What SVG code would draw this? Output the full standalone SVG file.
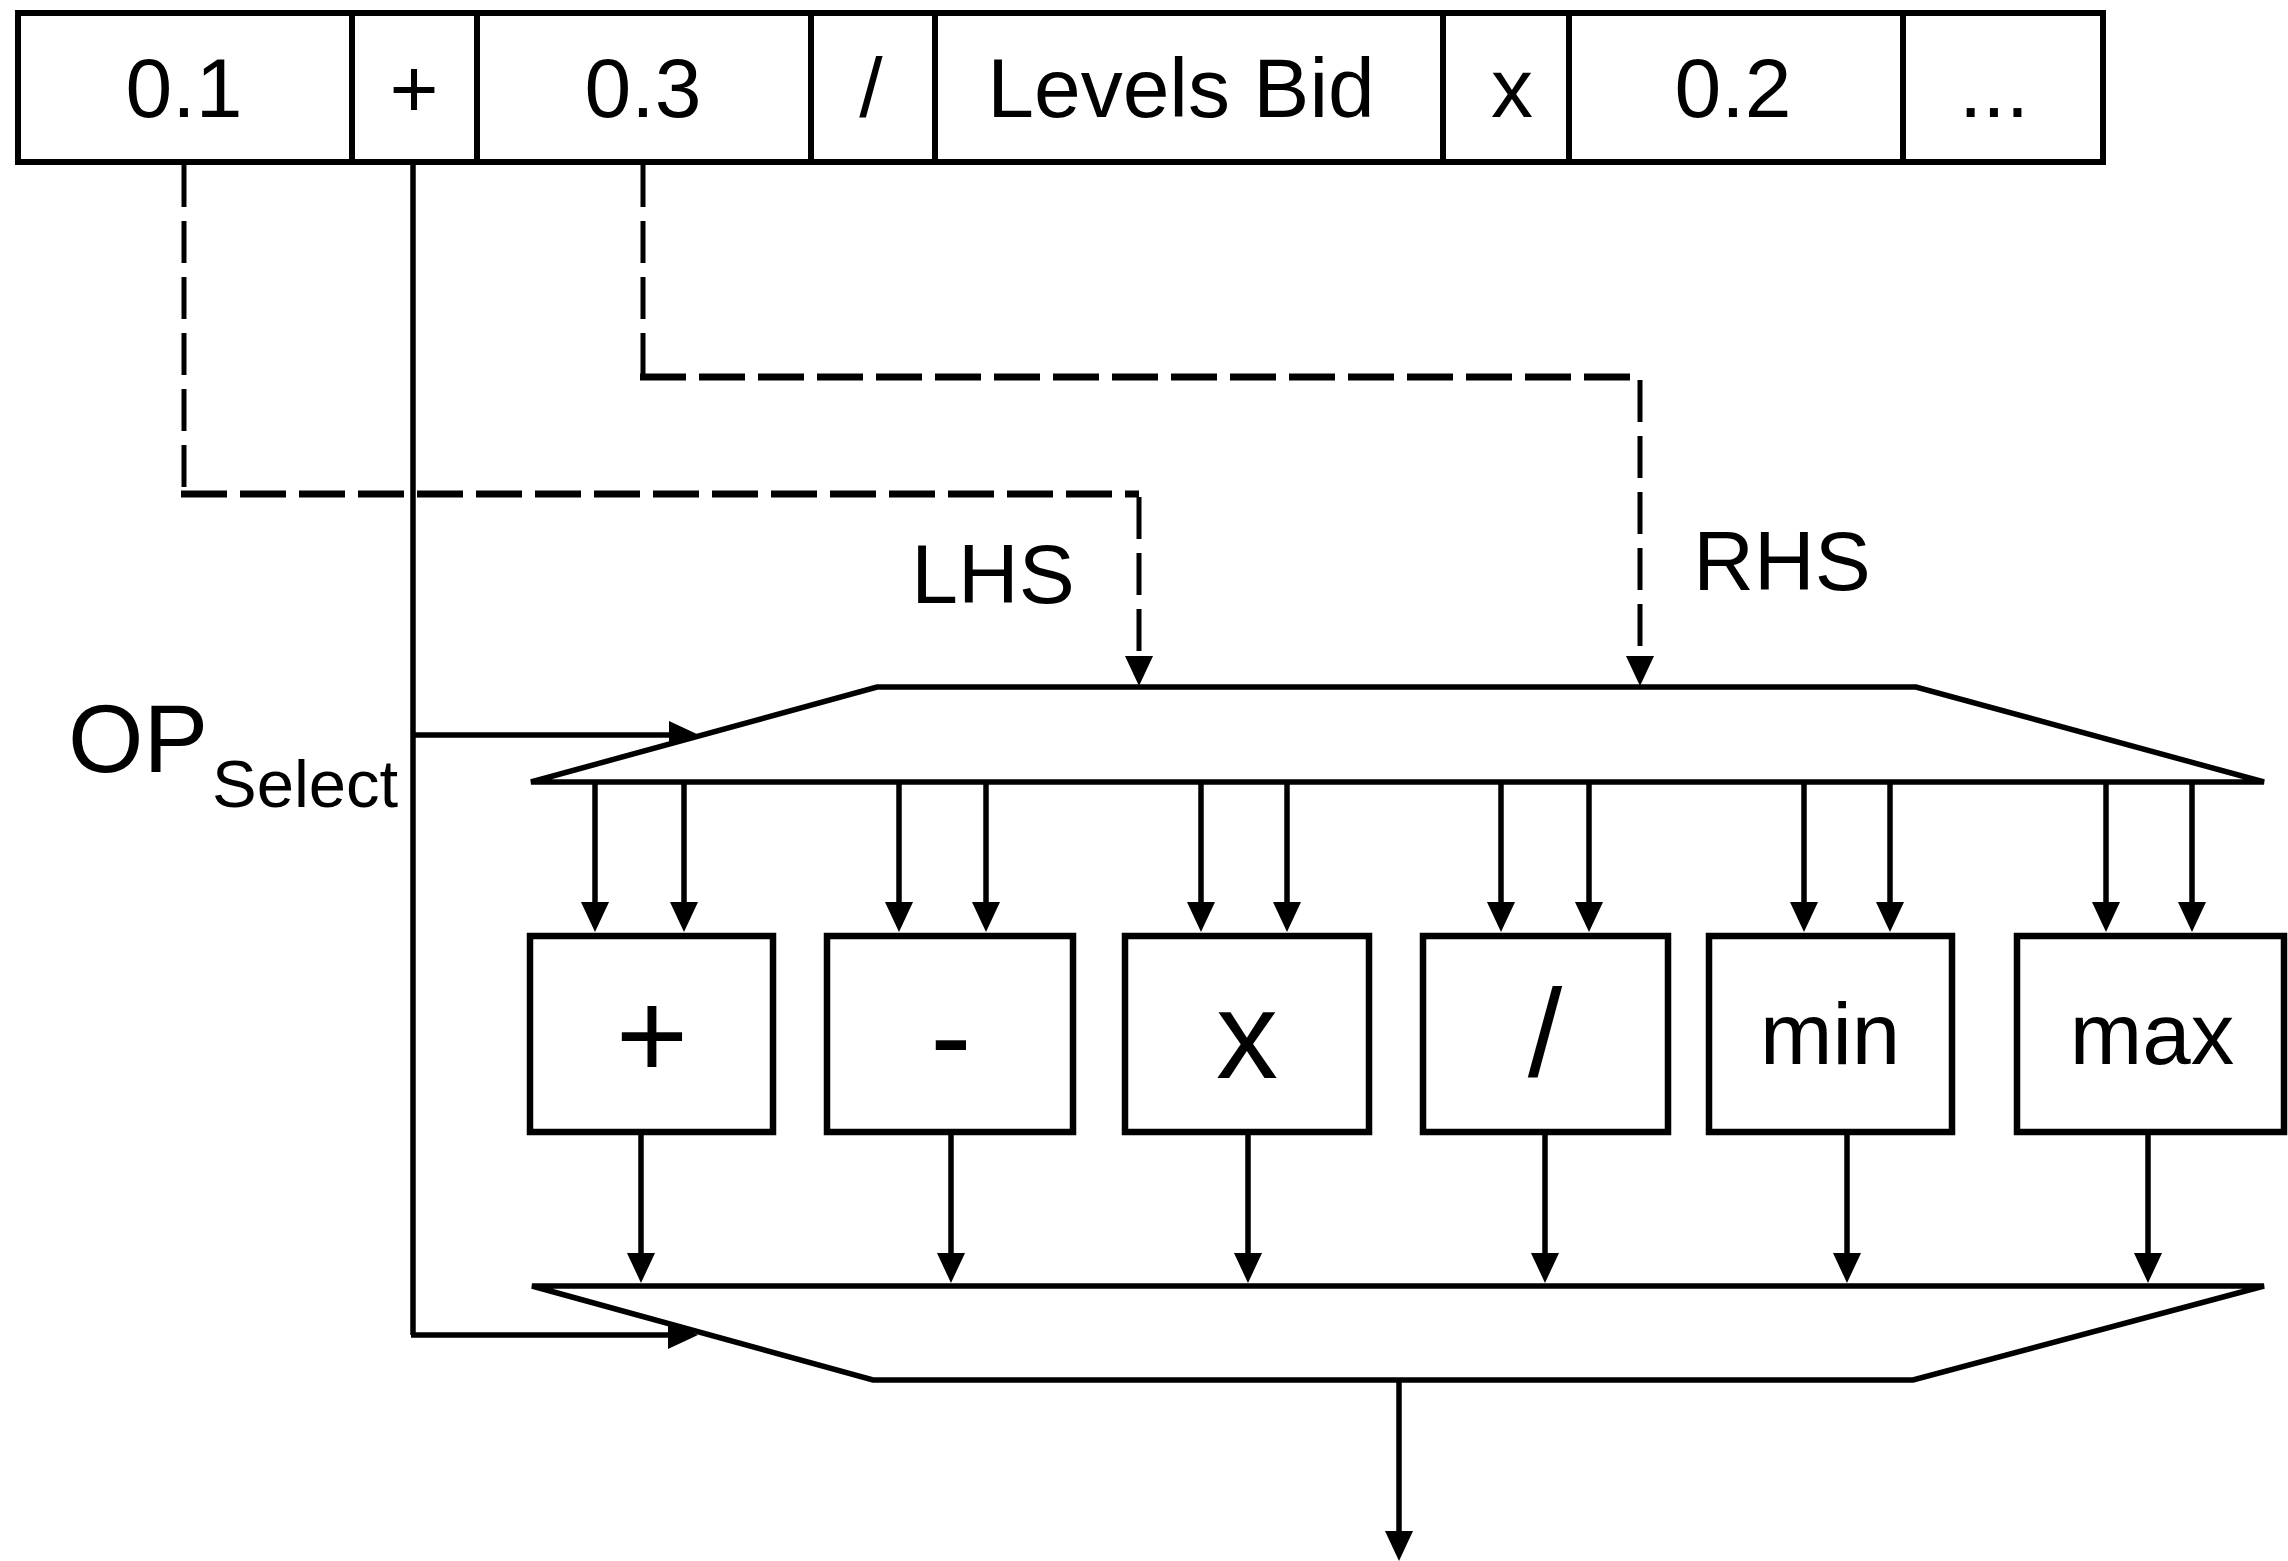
<svg xmlns="http://www.w3.org/2000/svg" width="2288" height="1561" viewBox="0 0 2288 1561">
<style>
  .cell { fill: #fff; stroke: #000; stroke-width: 6; }
  .box { fill: #fff; stroke: #000; stroke-width: 6.5; }
  .trap { fill: #fff; stroke: #000; stroke-width: 5.5; stroke-linejoin: miter; }
  .t { font-family: "Liberation Sans", Arial, sans-serif; fill: #000; text-anchor: middle; }
  .row { font-size: 84px; }
  .sym { font-size: 124px; }
  .word { font-size: 87px; }
  .lbl { font-size: 84px; }
  .w { stroke: #000; stroke-width: 5.5; fill: none; }
  .dv { stroke: #000; stroke-width: 5; fill: none; stroke-dasharray: 42 14; }
  .dh { stroke: #000; stroke-width: 7; fill: none; stroke-dasharray: 46 13; }
  .arr { marker-end: url(#ah); }
</style>
<defs>
  <marker id="ah" markerUnits="userSpaceOnUse" markerWidth="30" markerHeight="28" refX="19" refY="14" orient="auto">
    <path d="M0,0 L30,14 L0,28 z" fill="#000"/>
  </marker>
</defs>
<rect width="2288" height="1561" fill="#fff"/>

<g id="connectors">
  <!-- LHS dashed from 0.1 -->
  <path class="dv" d="M184,165 V491"/>
  <path class="dh" d="M181,494 H1139"/>
  <path class="dv arr" d="M1139,497 V675"/>
  <!-- RHS dashed from 0.3 -->
  <path class="dv" d="M643,165 V374"/>
  <path class="dh" d="M640,377 H1640"/>
  <path class="dv arr" d="M1640,380 V675"/>
  <!-- OP select -->
  <path class="w" d="M413,162 V1335"/>
  <path class="w arr" d="M411,735 H688"/>
  <path class="w arr" d="M411,1335 H687"/>
  <!-- demux to units -->
  <path class="w arr" d="M595,782 V921"/>
  <path class="w arr" d="M684,782 V921"/>
  <path class="w arr" d="M899,782 V921"/>
  <path class="w arr" d="M986,782 V921"/>
  <path class="w arr" d="M1201,782 V921"/>
  <path class="w arr" d="M1287,782 V921"/>
  <path class="w arr" d="M1501,782 V921"/>
  <path class="w arr" d="M1589,782 V921"/>
  <path class="w arr" d="M1804,782 V921"/>
  <path class="w arr" d="M1890,782 V921"/>
  <path class="w arr" d="M2106,782 V921"/>
  <path class="w arr" d="M2192,782 V921"/>
  <!-- units to mux -->
  <path class="w arr" d="M641,1135 V1272"/>
  <path class="w arr" d="M951,1135 V1272"/>
  <path class="w arr" d="M1248,1135 V1272"/>
  <path class="w arr" d="M1545,1135 V1272"/>
  <path class="w arr" d="M1847,1135 V1272"/>
  <path class="w arr" d="M2148,1135 V1272"/>
  <!-- output -->
  <path class="w arr" d="M1399,1380 V1550"/>
</g>

<g id="instruction">
  <g id="cell-0.1"><rect class="cell" x="18" y="13" width="334" height="149"/><text class="t row" x="184" y="117">0.1</text></g>
  <g id="cell-plus"><rect class="cell" x="352" y="13" width="125" height="149"/><text class="t row" x="414" y="117">+</text></g>
  <g id="cell-0.3"><rect class="cell" x="477" y="13" width="334" height="149"/><text class="t row" x="643" y="117">0.3</text></g>
  <g id="cell-div"><rect class="cell" x="811" y="13" width="124" height="149"/><text class="t row" x="871" y="117">/</text></g>
  <g id="cell-levels"><rect class="cell" x="935" y="13" width="508" height="149"/><text class="t row" x="1181" y="117">Levels Bid</text></g>
  <g id="cell-x"><rect class="cell" x="1443" y="13" width="126" height="149"/><text class="t row" x="1512" y="117">x</text></g>
  <g id="cell-0.2"><rect class="cell" x="1569" y="13" width="334" height="149"/><text class="t row" x="1733" y="117">0.2</text></g>
  <g id="cell-more"><rect class="cell" x="1903" y="13" width="200" height="149"/><text class="t row" x="1994" y="117">...</text></g>
</g>

<g id="demux"><polygon class="trap" points="877,687 1916,687 2264,782 531,782"/></g>
<g id="mux"><polygon class="trap" points="532,1286 2264,1286 1913,1380 873,1380"/></g>

<g id="unit-add"><rect class="box" x="530" y="936" width="243" height="196"/><text class="t sym" x="652" y="1078">+</text></g>
<g id="unit-sub"><rect class="box" x="827" y="936" width="246" height="196"/><text class="t sym" x="951" y="1078">-</text></g>
<g id="unit-mul"><rect class="box" x="1125" y="936" width="244" height="196"/><text class="t sym" x="1247" y="1078">x</text></g>
<g id="unit-div"><rect class="box" x="1423" y="936" width="245" height="196"/><text class="t sym" x="1545" y="1076">/</text></g>
<g id="unit-min"><rect class="box" x="1709" y="936" width="243" height="196"/><text class="t word" x="1830" y="1064">min</text></g>
<g id="unit-max"><rect class="box" x="2017" y="936" width="267" height="196"/><text class="t word" x="2152" y="1064">max</text></g>

<g id="labels">
  <text class="t lbl" x="993" y="603">LHS</text>
  <text class="t lbl" x="1782" y="590">RHS</text>
  <text style="font-family: 'Liberation Sans', Arial, sans-serif; font-size: 97px;" x="68" y="772">OP<tspan font-size="67" x="212" y="807">Select</tspan></text>
</g>
</svg>
